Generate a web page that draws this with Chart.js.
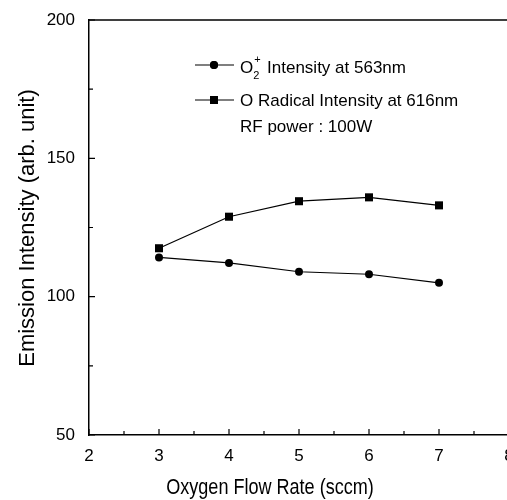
<!DOCTYPE html>
<html>
<head>
<meta charset="utf-8">
<script src="https://cdn.jsdelivr.net/npm/chart.js@4/dist/chart.umd.min.js"></script>
<style>
  html, body { margin: 0; padding: 0; background: #fff; overflow: hidden; }
  #wrap { width: 530px; height: 500px; }
</style>
</head>
<body>
<div id="wrap"><canvas id="emissionChart"></canvas></div>
<script>
// data
const flowRate = [3, 4, 5, 6, 7];
const o2PlusIntensity = [114.2, 112.2, 109, 108.1, 105];
const oRadicalIntensity = [117.5, 128.9, 134.5, 135.9, 133];
const xTicks = [2, 3, 4, 5, 6, 7, 8];
const yTicks = [50, 100, 150, 200];
const legendLabels = ['Intensity at 563nm', 'O Radical Intensity at 616nm'];
const noteText = 'RF power : 100W';

const FONT = '"Liberation Sans", Arial, Helvetica, sans-serif';

function toPoints(ys) {
  return flowRate.map((x, i) => ({ x: x, y: ys[i] }));
}

// inward ticks, top frame line, titles and the legend box
const paperPlugin = {
  id: 'paper',
  afterDraw(chart) {
    const ctx = chart.ctx;
    const a = chart.chartArea;
    const xs = chart.scales.x, ys = chart.scales.y;
    ctx.save();
    ctx.strokeStyle = '#000';
    ctx.lineWidth = 1.5;
    ctx.beginPath();
    ctx.moveTo(a.left, a.top);
    ctx.lineTo(a.right, a.top);
    ctx.lineTo(a.right, a.bottom);
    ctx.stroke();

    ctx.lineWidth = 1.2;
    ctx.beginPath();
    for (let v = 2; v <= 8; v += 0.5) {
      const px = xs.getPixelForValue(v);
      const len = Number.isInteger(v) ? 6 : 4;
      ctx.moveTo(px, a.bottom);
      ctx.lineTo(px, a.bottom - len);
    }
    for (let v = 50; v <= 200; v += 25) {
      const py = ys.getPixelForValue(v);
      const len = v % 50 === 0 ? 6 : 4;
      ctx.moveTo(a.left, py);
      ctx.lineTo(a.left + len, py);
    }
    ctx.stroke();

    // axis titles
    ctx.fillStyle = '#000';
    ctx.textAlign = 'center';
    ctx.textBaseline = 'alphabetic';
    // x title is set in a condensed face in the original
    ctx.save();
    ctx.font = '22px ' + FONT;
    ctx.translate(270, 494);
    ctx.scale(0.82, 1);
    ctx.fillText('Oxygen Flow Rate (sccm)', 0, 0);
    ctx.restore();
    ctx.save();
    ctx.font = '22px ' + FONT;
    ctx.translate(34, 228);
    ctx.rotate(-Math.PI / 2);
    ctx.fillText('Emission Intensity (arb. unit)', 0, 0);
    ctx.restore();

    // legend
    const rows = [
      { y: 65, style: 'circle', r: 4 },
      { y: 100, style: 'rect', r: 5.7 }
    ];
    ctx.font = '17px ' + FONT;
    ctx.textAlign = 'left';
    rows.forEach((row) => {
      ctx.lineWidth = 1.2;
      ctx.beginPath();
      ctx.moveTo(195, row.y);
      ctx.lineTo(234, row.y);
      ctx.stroke();
      Chart.helpers.drawPoint(ctx, { pointStyle: row.style, radius: row.r, borderWidth: 0 }, 214, row.y);
      ctx.fill();
    });
    // O2+ label with sub/superscript
    let tx = 240;
    ctx.fillText('O', tx, 73);
    tx += ctx.measureText('O').width;
    ctx.font = '11px ' + FONT;
    ctx.fillText('2', tx, 79);
    ctx.fillText('+', tx + 1, 63);
    tx += ctx.measureText('2').width + 3;
    ctx.font = '17px ' + FONT;
    ctx.fillText(' ' + legendLabels[0], tx, 73);
    ctx.fillText(legendLabels[1], 240, 106);
    ctx.fillText(noteText, 240, 132);
    ctx.restore();
  }
};

const ctx = document.getElementById('emissionChart').getContext('2d');
new Chart(ctx, {
  type: 'scatter',
  data: {
    datasets: [
      {
        label: 'O2+ Intensity at 563nm',
        data: toPoints(o2PlusIntensity),
        showLine: true,
        borderColor: '#000',
        backgroundColor: '#000',
        borderWidth: 1.2,
        pointStyle: 'circle',
        pointRadius: 4,
        pointBorderWidth: 0
      },
      {
        label: 'O Radical Intensity at 616nm',
        data: toPoints(oRadicalIntensity),
        showLine: true,
        borderColor: '#000',
        backgroundColor: '#000',
        borderWidth: 1.2,
        pointStyle: 'rect',
        pointRadius: 5.7,
        pointBorderWidth: 0
      }
    ]
  },
  options: {
    responsive: true,
    maintainAspectRatio: false,
    animation: false,
    layout: { padding: { top: 20, right: 21, left: 0, bottom: 0 } },
    plugins: {
      legend: { display: false },
      tooltip: { enabled: false }
    },
    scales: {
      x: {
        type: 'linear',
        min: 2,
        max: 8,
        afterFit: (s) => { s.height = 65; },
        afterBuildTicks: (s) => { s.ticks = xTicks.map(v => ({ value: v })); },
        grid: { display: false },
        border: { display: true, color: '#000', width: 1.5 },
        ticks: { color: '#000', font: { family: FONT, size: 17 }, padding: 3 }
      },
      y: {
        min: 50,
        max: 200,
        afterFit: (s) => { s.width = 89; },
        afterBuildTicks: (s) => { s.ticks = yTicks.map(v => ({ value: v })); },
        grid: { display: false },
        border: { display: true, color: '#000', width: 1.5 },
        ticks: { color: '#000', font: { family: FONT, size: 17 }, padding: 6 }
      }
    }
  },
  plugins: [paperPlugin]
});
</script>
</body>
</html>
